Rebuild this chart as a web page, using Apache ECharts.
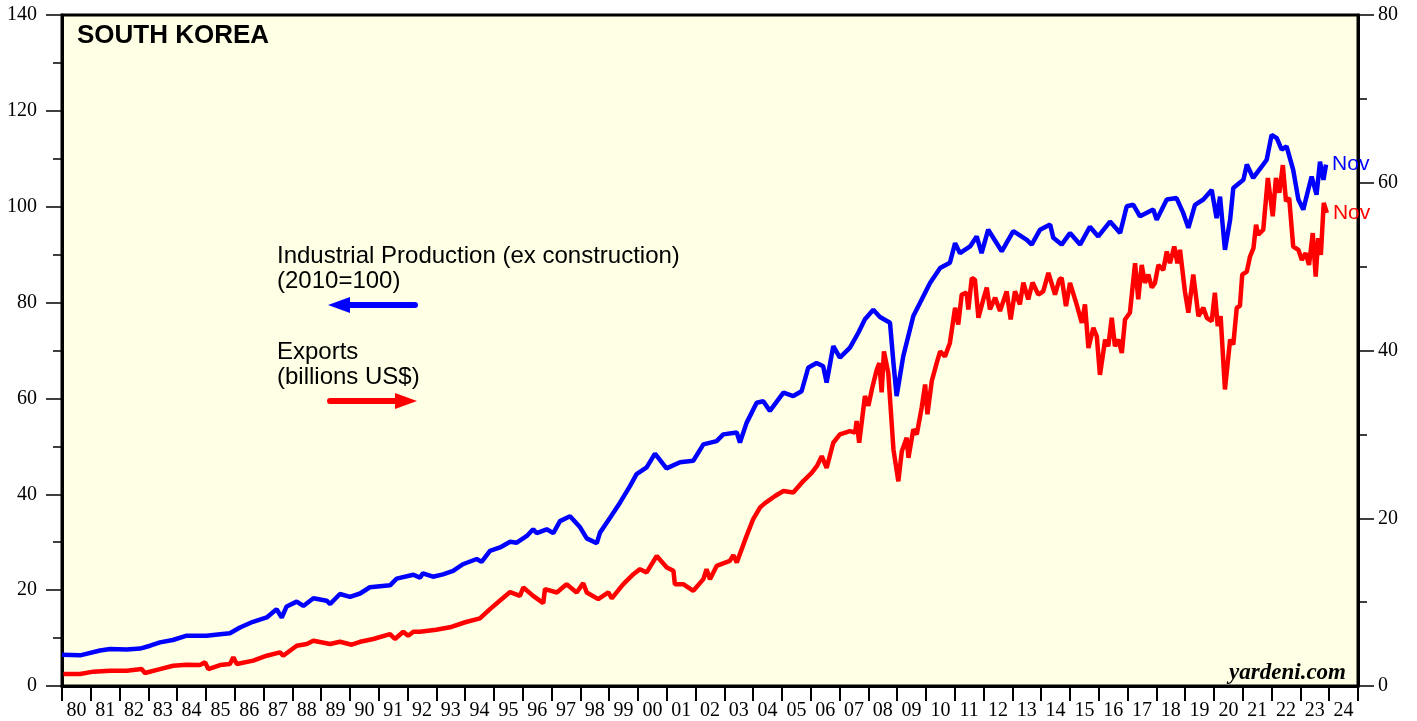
<!DOCTYPE html>
<html>
<head>
<meta charset="utf-8">
<script src="https://cdn.jsdelivr.net/npm/echarts@6/dist/echarts.min.js"></script>
<style>
html,body{margin:0;padding:0;background:#fff;}
#chart{width:1417px;height:721px;}
</style>
</head>
<body>
<div id="chart"></div>
<script>
// Year tick labels (between year ticks)
const yearLabels = ['80','81','82','83','84','85','86','87','88','89','90','91','92','93','94','95','96','97','98','99','00','01','02','03','04','05','06','07','08','09','10','11','12','13','14','15','16','17','18','19','20','21','22','23','24'];

// Industrial Production (ex construction), 2010=100 — left axis
const ipYears = [1980.00,1980.63,1981.32,1981.67,1982.25,1982.71,1983.06,1983.40,1983.85,1984.33,1985.02,1985.49,1985.83,1986.18,1986.63,1987.11,1987.45,1987.63,1987.80,1988.15,1988.38,1988.73,1989.19,1989.31,1989.65,1990.00,1990.35,1990.69,1991.39,1991.62,1992.20,1992.43,1992.53,1992.88,1993.23,1993.58,1993.92,1994.40,1994.57,1994.86,1995.21,1995.56,1995.79,1996.14,1996.36,1996.48,1996.83,1997.06,1997.29,1997.64,1997.99,1998.22,1998.57,1998.68,1999.03,1999.38,1999.72,1999.95,2000.30,2000.59,2000.99,2001.46,2001.92,2002.27,2002.73,2002.96,2003.43,2003.54,2003.77,2004.12,2004.35,2004.58,2005.05,2005.39,2005.68,2005.91,2006.20,2006.43,2006.55,2006.78,2007.01,2007.36,2007.65,2007.88,2008.17,2008.40,2008.75,2008.87,2008.98,2009.21,2009.56,2009.79,2010.14,2010.49,2010.83,2011.01,2011.18,2011.53,2011.76,2011.93,2012.16,2012.63,2013.03,2013.50,2013.67,2013.96,2014.31,2014.42,2014.71,2015.00,2015.35,2015.69,2015.98,2016.39,2016.74,2016.97,2017.20,2017.43,2017.89,2018.01,2018.36,2018.70,2018.93,2019.11,2019.34,2019.63,2019.92,2020.09,2020.21,2020.38,2020.56,2020.67,2021.02,2021.14,2021.36,2021.66,2021.83,2022.00,2022.18,2022.35,2022.52,2022.75,2022.93,2023.10,2023.27,2023.39,2023.56,2023.68,2023.80,2023.89];
const ipValues = [6.5,6.4,7.4,7.7,7.6,7.8,8.4,9.1,9.6,10.5,10.5,10.8,11.0,12.2,13.4,14.3,16.0,14.3,16.6,17.6,16.7,18.3,17.8,17.1,19.2,18.6,19.3,20.6,21.0,22.4,23.2,22.6,23.5,22.8,23.3,24.0,25.4,26.5,25.9,28.2,28.9,30.1,29.9,31.3,32.7,31.9,32.7,31.9,34.4,35.4,33.1,30.8,29.8,32.0,35.1,38.3,41.7,44.2,45.6,48.5,45.4,46.7,47.0,50.4,51.1,52.5,52.9,50.8,54.9,59.1,59.4,57.4,61.2,60.5,61.5,66.4,67.4,66.7,63.3,70.9,68.5,70.6,73.7,76.5,78.5,77.0,75.8,67.4,60.5,68.8,77.2,79.9,84.1,87.2,88.3,92.4,90.3,91.7,93.8,90.3,95.2,90.7,94.9,93.1,92.1,95.2,96.3,93.5,92.1,94.5,92.1,95.8,93.8,96.9,94.5,100.1,100.4,98.0,99.4,97.3,101.5,101.8,98.7,95.6,100.4,101.5,103.5,97.6,102.1,91.0,97.3,103.9,105.6,108.8,106.0,108.4,109.8,115.0,114.3,111.9,112.6,107.7,101.5,99.4,103.5,106.3,102.5,109.4,105.6,108.8];

// Exports, billions US$ — right axis
const exYears = [1980.05,1980.63,1981.09,1981.67,1982.25,1982.77,1982.88,1983.40,1983.86,1984.33,1984.79,1984.97,1985.08,1985.49,1985.83,1985.95,1986.07,1986.64,1987.11,1987.57,1987.68,1988.15,1988.50,1988.73,1989.31,1989.65,1990.06,1990.35,1990.81,1991.39,1991.56,1991.85,1992.02,1992.20,1992.43,1992.99,1993.47,1994.00,1994.51,1994.86,1995.21,1995.56,1995.90,1996.02,1996.36,1996.71,1996.77,1997.18,1997.52,1997.87,1998.10,1998.22,1998.62,1998.97,1999.09,1999.49,1999.84,2000.07,2000.30,2000.65,2001.00,2001.23,2001.28,2001.57,2001.92,2002.27,2002.38,2002.50,2002.73,2003.19,2003.31,2003.43,2003.77,2004.00,2004.24,2004.41,2004.76,2005.05,2005.39,2005.74,2006.03,2006.21,2006.38,2006.55,2006.78,2007.01,2007.36,2007.54,2007.59,2007.68,2007.88,2008.00,2008.12,2008.29,2008.38,2008.46,2008.54,2008.69,2008.87,2009.04,2009.16,2009.33,2009.39,2009.56,2009.68,2009.85,2009.97,2010.05,2010.20,2010.37,2010.49,2010.66,2010.83,2011.01,2011.12,2011.24,2011.41,2011.47,2011.59,2011.70,2011.82,2011.99,2012.11,2012.22,2012.40,2012.57,2012.80,2012.94,2013.09,2013.26,2013.38,2013.55,2013.70,2013.90,2014.07,2014.25,2014.48,2014.63,2014.71,2014.86,2015.00,2015.23,2015.41,2015.52,2015.64,2015.81,2015.93,2016.04,2016.22,2016.33,2016.45,2016.56,2016.68,2016.80,2016.91,2017.08,2017.26,2017.37,2017.49,2017.60,2017.72,2017.84,2017.95,2018.07,2018.24,2018.36,2018.47,2018.62,2018.73,2018.82,2018.99,2019.11,2019.28,2019.46,2019.63,2019.75,2019.92,2020.03,2020.13,2020.23,2020.38,2020.56,2020.67,2020.79,2020.90,2020.98,2021.14,2021.25,2021.37,2021.46,2021.54,2021.71,2021.87,2022.04,2022.15,2022.27,2022.39,2022.50,2022.61,2022.75,2022.93,2023.05,2023.18,2023.30,2023.43,2023.53,2023.62,2023.71,2023.81,2023.92];
const exValues = [1.43,1.43,1.71,1.83,1.83,2.02,1.55,2.02,2.42,2.54,2.5,2.82,2.02,2.5,2.62,3.41,2.62,3.02,3.61,4.01,3.61,4.8,5.0,5.4,5.0,5.27,4.92,5.27,5.6,6.19,5.6,6.47,5.99,6.47,6.47,6.7,7.0,7.6,8.06,9.17,10.2,11.2,10.75,11.75,10.75,9.88,11.55,11.15,12.14,11.15,12.26,11.15,10.36,11.15,10.44,12.14,13.33,13.93,13.54,15.5,14.13,13.73,12.14,12.14,11.35,12.74,13.93,12.74,14.32,14.92,15.6,14.72,17.9,19.9,21.3,21.8,22.65,23.25,23.06,24.44,25.4,26.2,27.4,26.0,29.0,30.0,30.4,30.2,31.6,29.0,34.56,33.4,35.36,37.7,38.5,35.0,39.9,37.3,28.2,24.4,28.0,29.6,27.2,30.6,30.0,33.2,35.95,32.4,36.35,38.5,39.9,39.3,40.9,45.1,43.1,46.67,46.9,44.9,48.65,48.45,43.9,46.1,47.5,44.9,46.3,44.7,47.05,43.7,47.05,45.5,48.1,46.1,48.1,46.67,47.05,49.25,46.67,48.45,48.65,45.3,48.06,45.5,43.3,45.5,40.3,42.7,41.7,37.1,41.3,40.5,43.9,40.5,41.3,39.7,43.7,44.5,50.4,46.1,50.2,48.06,49.05,47.5,48.06,50.2,49.6,51.8,50.4,52.4,50.4,52.0,47.05,44.5,49.05,44.1,45.1,43.9,43.5,46.9,42.9,44.1,35.36,41.3,40.7,45.1,45.3,49.05,49.4,51.2,52.2,55.0,53.8,54.4,60.56,56.0,60.56,58.8,62.1,57.8,58.2,52.4,52.0,50.8,51.6,50.2,54.0,48.8,53.4,51.4,57.6,56.4];

const chart = echarts.init(document.getElementById('chart'), null, {renderer:'canvas'});
const serif = '"Liberation Serif", "Times New Roman", serif';
const sans = '"Liberation Sans", Arial, sans-serif';

const ipData = ipYears.map((y,i)=>[y, ipValues[i]]);
const exData = exYears.map((y,i)=>[y, exValues[i]]);

const option = {
  animation:false,
  backgroundColor:'#ffffff',
  grid:{left:62,right:59,top:15,bottom:34,show:true,backgroundColor:'#ffffe5',borderColor:'#000',borderWidth:3},
  xAxis:[
    {type:'value',min:1980,max:2025,interval:1,position:'bottom',
     axisLine:{show:true,onZero:false,lineStyle:{color:'#000',width:3}},
     axisTick:{show:true,inside:false,length:15,lineStyle:{color:'#000',width:2}},
     axisLabel:{show:false},splitLine:{show:false}},
    {type:'category',data:yearLabels,position:'bottom',boundaryGap:true,
     axisLine:{show:false},axisTick:{show:false},splitLine:{show:false},
     axisLabel:{interval:0,margin:15,fontFamily:serif,fontSize:20,color:'#000'}}
  ],
  yAxis:[
    {type:'value',min:0,max:140,interval:20,position:'left',
     axisLine:{show:true,lineStyle:{color:'#000',width:3}},
     axisTick:{show:true,length:16,lineStyle:{color:'#000',width:1.5}},
     minorTick:{show:true,splitNumber:2,length:9,lineStyle:{color:'#000',width:1.5}},
     axisLabel:{margin:25,fontFamily:serif,fontSize:20,color:'#000'},
     splitLine:{show:false}},
    {type:'value',min:0,max:80,interval:20,position:'right',
     axisLine:{show:true,lineStyle:{color:'#000',width:3}},
     axisTick:{show:true,length:16,lineStyle:{color:'#000',width:1.5}},
     minorTick:{show:true,splitNumber:2,length:9,lineStyle:{color:'#000',width:1.5}},
     axisLabel:{margin:20,fontFamily:serif,fontSize:20,color:'#000'},
     splitLine:{show:false}}
  ],
  series:[
    {name:'Industrial Production',type:'line',xAxisIndex:0,yAxisIndex:0,data:ipData,
     showSymbol:false,symbol:'none',lineStyle:{color:'#0000ff',width:4.5},
     endLabel:{show:true,formatter:'Nov',color:'#0000ff',fontFamily:sans,fontSize:21,distance:6}},
    {name:'Exports',type:'line',xAxisIndex:0,yAxisIndex:1,data:exData,
     showSymbol:false,symbol:'none',lineStyle:{color:'#ff0000',width:4.5},
     endLabel:{show:true,formatter:'Nov',color:'#ff0000',fontFamily:sans,fontSize:21,distance:6}}
  ],
  graphic:[
    {type:'text',x:77,y:36,style:{text:'SOUTH KOREA',font:'bold 26px '+sans,fill:'#000',verticalAlign:'middle'}},
    {type:'text',x:277,y:256,style:{text:'Industrial Production (ex construction)',font:'24px '+sans,fill:'#000',verticalAlign:'middle'}},
    {type:'text',x:277,y:281,style:{text:'(2010=100)',font:'24px '+sans,fill:'#000',verticalAlign:'middle'}},
    {type:'text',x:277,y:352,style:{text:'Exports',font:'24px '+sans,fill:'#000',verticalAlign:'middle'}},
    {type:'text',x:277,y:377,style:{text:'(billions US$)',font:'24px '+sans,fill:'#000',verticalAlign:'middle'}},
    {type:'line',shape:{x1:345,y1:305,x2:415,y2:305},style:{stroke:'#0000ff',lineWidth:6,lineCap:'round'}},
    {type:'polygon',shape:{points:[[328,305],[350,297],[350,313]]},style:{fill:'#0000ff'}},
    {type:'line',shape:{x1:330,y1:401,x2:400,y2:401},style:{stroke:'#ff0000',lineWidth:6,lineCap:'round'}},
    {type:'polygon',shape:{points:[[417,401],[395,393],[395,409]]},style:{fill:'#ff0000'}},
    {type:'text',x:1346,y:673,style:{text:'yardeni.com',font:'italic bold 23px '+serif,fill:'#000',align:'right',verticalAlign:'middle'}}
  ]
};
chart.setOption(option);
</script>
</body>
</html>
